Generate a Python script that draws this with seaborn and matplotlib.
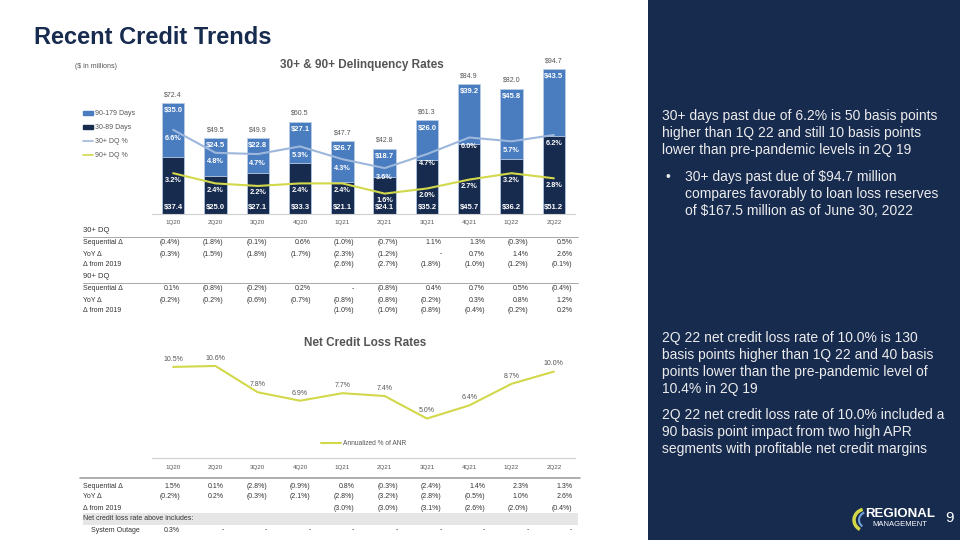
import numpy as np
import pandas as pd
import matplotlib
matplotlib.use("Agg")
import matplotlib.pyplot as plt
import matplotlib.patches as mpatches
from matplotlib.lines import Line2D
import seaborn as sns

sns.set_theme(style="white")
plt.rcParams['font.family'] = ['Liberation Sans', 'DejaVu Sans']

# ---------------- data ----------------
quarters = ['1Q20', '2Q20', '3Q20', '4Q20', '1Q21', '2Q21', '3Q21', '4Q21', '1Q22', '2Q22']
dq_30_89 = [37.4, 25.0, 27.1, 33.3, 21.1, 24.1, 35.2, 45.7, 36.2, 51.2]
dq_90_179 = [35.0, 24.5, 22.8, 27.1, 26.7, 18.7, 26.0, 39.2, 45.8, 43.5]
dq_total = [72.4, 49.5, 49.9, 60.5, 47.7, 42.8, 61.3, 84.9, 82.0, 94.7]
dq30_pct = [6.6, 4.8, 4.7, 5.3, 4.3, 3.6, 4.7, 6.0, 5.7, 6.2]
dq90_pct = [3.2, 2.4, 2.2, 2.4, 2.4, 1.6, 2.0, 2.7, 3.2, 2.8]
ncl_pct = [10.5, 10.6, 7.8, 6.9, 7.7, 7.4, 5.0, 6.4, 8.7, 10.0]

dq30_seq = ['(0.4%)', '(1.8%)', '(0.1%)', '0.6%', '(1.0%)', '(0.7%)', '1.1%', '1.3%', '(0.3%)', '0.5%']
dq30_yoy = ['(0.3%)', '(1.5%)', '(1.8%)', '(1.7%)', '(2.3%)', '(1.2%)', '-', '0.7%', '1.4%', '2.6%']
dq30_2019 = ['', '', '', '', '(2.6%)', '(2.7%)', '(1.8%)', '(1.0%)', '(1.2%)', '(0.1%)']
dq90_seq = ['0.1%', '(0.8%)', '(0.2%)', '0.2%', '-', '(0.8%)', '0.4%', '0.7%', '0.5%', '(0.4%)']
dq90_yoy = ['(0.2%)', '(0.2%)', '(0.6%)', '(0.7%)', '(0.8%)', '(0.8%)', '(0.2%)', '0.3%', '0.8%', '1.2%']
dq90_2019 = ['', '', '', '', '(1.0%)', '(1.0%)', '(0.8%)', '(0.4%)', '(0.2%)', '0.2%']
ncl_seq = ['1.5%', '0.1%', '(2.8%)', '(0.9%)', '0.8%', '(0.3%)', '(2.4%)', '1.4%', '2.3%', '1.3%']
ncl_yoy = ['(0.2%)', '0.2%', '(0.3%)', '(2.1%)', '(2.8%)', '(3.2%)', '(2.8%)', '(0.5%)', '1.0%', '2.6%']
ncl_2019 = ['', '', '', '', '(3.0%)', '(3.0%)', '(3.1%)', '(2.6%)', '(2.0%)', '(0.4%)']
outage = ['0.3%', '-', '-', '-', '-', '-', '-', '-', '-', '-']

para1 = ['30+ days past due of 6.2% is 50 basis points',
         'higher than 1Q 22 and still 10 basis points',
         'lower than pre-pandemic levels in 2Q 19']
bullet1 = ['30+ days past due of $94.7 million',
           'compares favorably to loan loss reserves',
           'of $167.5 million as of June 30, 2022']
para2 = ['2Q 22 net credit loss rate of 10.0% is 130',
         'basis points higher than 1Q 22 and 40 basis',
         'points lower than the pre-pandemic level of',
         '10.4% in 2Q 19']
para3 = ['2Q 22 net credit loss rate of 10.0% included a',
         '90 basis point impact from two high APR',
         'segments with profitable net credit margins']

NAVY = '#172b4f'
MIDBLUE = '#4a7cc0'
LIGHTBLUE = '#9db8dc'
YELLOW = '#d2d84a'
GREY = '#555555'
TXT = '#333333'

W, H = 960, 540
fig = plt.figure(figsize=(9.6, 5.4), dpi=100)
fig.patch.set_facecolor('white')


def axes_px(x0, y0, x1, y1):
    return fig.add_axes([x0 / W, 1 - y1 / H, (x1 - x0) / W, (y1 - y0) / H])


def ftext(x, y, s, **kw):
    kw.setdefault('va', 'center')
    return fig.text(x / W, 1 - y / H, s, **kw)


# right navy panel
fig.patches.append(mpatches.Rectangle((648 / W, 0), 1 - 648 / W, 1, transform=fig.transFigure,
                                      facecolor=NAVY, edgecolor='none', zorder=0))

ftext(34, 38, 'Recent Credit Trends', fontsize=17, fontweight='bold', color=NAVY)
ftext(75, 66, '($ in millions)', fontsize=5, color=GREY)
ftext(362, 65, '30+ & 90+ Delinquency Rates', fontsize=8.5, fontweight='bold', color=GREY, ha='center')

# ---------------- chart 1: stacked bars ----------------
df = pd.DataFrame({'quarter': quarters, 'd30': dq_30_89, 'd90': dq_90_179})
df['stack'] = df['d30'] + df['d90']

ax = axes_px(152, 61, 575, 214)
sns.barplot(data=df, x='quarter', y='stack', color=MIDBLUE, width=0.53, saturation=1,
            edgecolor='#b9cce6', linewidth=0.6, ax=ax)
sns.barplot(data=df, x='quarter', y='d30', color=NAVY, width=0.53, saturation=1,
            edgecolor='#b9cce6', linewidth=0.6, ax=ax)
ax.set_ylim(0, 100)
ax.set_xlim(-0.5, 9.5)
ax.set_xlabel('')
ax.set_ylabel('')
ax.set_yticks([])
ax.tick_params(axis='x', labelsize=4.5, labelcolor=GREY, length=0, pad=4)
for s in ['top', 'right', 'left']:
    ax.spines[s].set_visible(False)
ax.spines['bottom'].set_color('#d0d0d0')
ax.spines['bottom'].set_linewidth(0.8)

for i in range(len(quarters)):
    ax.text(i, 4.5, f'${dq_30_89[i]:.1f}', ha='center', va='center', fontsize=5.5,
            fontweight='bold', color='white')
    ax.text(i, dq_30_89[i] + dq_90_179[i] - 5, f'${dq_90_179[i]:.1f}', ha='center', va='center',
            fontsize=5.5, fontweight='bold', color='white')
    ax.text(i, dq_total[i] + 3, f'${dq_total[i]:.1f}', ha='center', va='bottom', fontsize=5,
            color=GREY)

ax2 = ax.twinx()
x = np.arange(len(quarters))
sns.lineplot(x=x, y=dq30_pct, color=LIGHTBLUE, linewidth=1.5, ax=ax2)
sns.lineplot(x=x, y=dq90_pct, color=YELLOW, linewidth=1.5, ax=ax2)
ax2.set_ylim(0, 12)
ax2.set_yticks([])
for s in ax2.spines.values():
    s.set_visible(False)
for i in range(len(quarters)):
    ax2.annotate(f'{dq30_pct[i]:.1f}%', (i, dq30_pct[i]), xytext=(0, -6.5), textcoords='offset points',
                 ha='center', va='center', fontsize=5.3, fontweight='bold', color='white')
    ax2.annotate(f'{dq90_pct[i]:.1f}%', (i, dq90_pct[i]), xytext=(0, -5), textcoords='offset points',
                 ha='center', va='center', fontsize=5.3, fontweight='bold', color='white')

handles = [mpatches.Patch(color=MIDBLUE), mpatches.Patch(color=NAVY),
           Line2D([], [], color=LIGHTBLUE, lw=1.2), Line2D([], [], color=YELLOW, lw=1.2)]
fig.legend(handles, ['90-179 Days', '30-89 Days', '30+ DQ %', '90+ DQ %'],
           loc='upper left', bbox_to_anchor=(80 / W, 1 - 107 / H), frameon=False,
           fontsize=5, labelcolor=GREY, handlelength=1.3, handleheight=0.6,
           labelspacing=1.0, handletextpad=0.3, borderpad=0)

# ---------------- table helpers ----------------
col_right = [180 + 43.6 * i for i in range(len(quarters))]


def table_row(y, label, vals, indent=0):
    ftext(83 + indent, y, label, fontsize=5, color=TXT)
    for cx, v in zip(col_right, vals):
        if v:
            ftext(cx, y, v, fontsize=5, color=TXT, ha='right')


def hline(y, x0=83, x1=578, color='#9a9a9a', lw=0.6):
    fig.add_artist(Line2D([x0 / W, x1 / W], [1 - y / H, 1 - y / H], color=color, lw=lw))


ftext(83, 231, '30+ DQ', fontsize=5.5, color=TXT)
hline(237)
table_row(243, 'Sequential Δ', dq30_seq)
table_row(254, 'YoY Δ', dq30_yoy)
table_row(265, 'Δ from 2019', dq30_2019)
ftext(83, 277, '90+ DQ', fontsize=5.5, color=TXT)
hline(283)
table_row(289, 'Sequential Δ', dq90_seq)
table_row(300, 'YoY Δ', dq90_yoy)
table_row(311, 'Δ from 2019', dq90_2019)

# ---------------- chart 2: net credit loss ----------------
ftext(365, 343, 'Net Credit Loss Rates', fontsize=8.5, fontweight='bold', color=GREY, ha='center')
bx = axes_px(152, 350, 575, 458)
sns.lineplot(x=x, y=ncl_pct, color=YELLOW, linewidth=1.5, ax=bx, label='Annualized % of ANR')
bx.set_ylim(0.8, 12.3)
bx.set_xlim(-0.5, 9.5)
bx.set_xticks(x)
bx.set_xticklabels(quarters)
bx.set_yticks([])
bx.tick_params(axis='x', labelsize=4.5, labelcolor=GREY, length=0, pad=5)
for s in ['top', 'right', 'left']:
    bx.spines[s].set_visible(False)
bx.spines['bottom'].set_color('#d0d0d0')
bx.spines['bottom'].set_linewidth(0.8)
for i in range(len(quarters)):
    bx.annotate(f'{ncl_pct[i]:.1f}%', (i, ncl_pct[i]), xytext=(0, 5.5), textcoords='offset points',
                ha='center', va='center', fontsize=5, color=GREY)
bx.legend(loc='center', bbox_to_anchor=(0.5, 0.13), frameon=False, fontsize=4.8,
          labelcolor=GREY, handlelength=3, handletextpad=0.3)

hline(478, x0=80, x1=580, color='#a0a0a0', lw=1.2)
table_row(486, 'Sequential Δ', ncl_seq)
table_row(497, 'YoY Δ', ncl_yoy)
table_row(508, 'Δ from 2019', ncl_2019)
fig.patches.append(mpatches.Rectangle((83 / W, 1 - 525 / H), (578 - 83) / W, 12 / H,
                                      transform=fig.transFigure, facecolor='#e6e6e6',
                                      edgecolor='none', zorder=0))
ftext(83, 519, 'Net credit loss rate above includes:', fontsize=5, color=TXT)
table_row(530, 'System Outage', outage, indent=8)

# ---------------- right panel text ----------------
para_kw = dict(fontsize=10, color='#ececec')


def para(x0, y0, lines):
    for k, line in enumerate(lines):
        ftext(x0, y0 + 17 * k, line, **para_kw)


para(662, 116, para1)
ftext(665, 177, '•', **para_kw)
para(685, 177, bullet1)
para(662, 338, para2)
para(662, 415, para3)

# logo
fig.add_artist(mpatches.Arc((866 / W, 1 - 520 / H), 24 / W, 22 / H, theta1=100, theta2=250,
                            color=YELLOW, lw=2.5, transform=fig.transFigure))
fig.add_artist(mpatches.Arc((869 / W, 1 - 520 / H), 20 / W, 17 / H, theta1=110, theta2=240,
                            color='#6fa0d8', lw=1.5, transform=fig.transFigure))
ftext(865, 514, 'REGIONAL', fontsize=9.5, fontweight='bold', color='white', ha='left')
ftext(872, 525, 'MANAGEMENT', fontsize=5.5, color='white', ha='left')
ftext(950, 518, '9', fontsize=11, color='white', ha='center')

fig.savefig('out.png', dpi=100)
